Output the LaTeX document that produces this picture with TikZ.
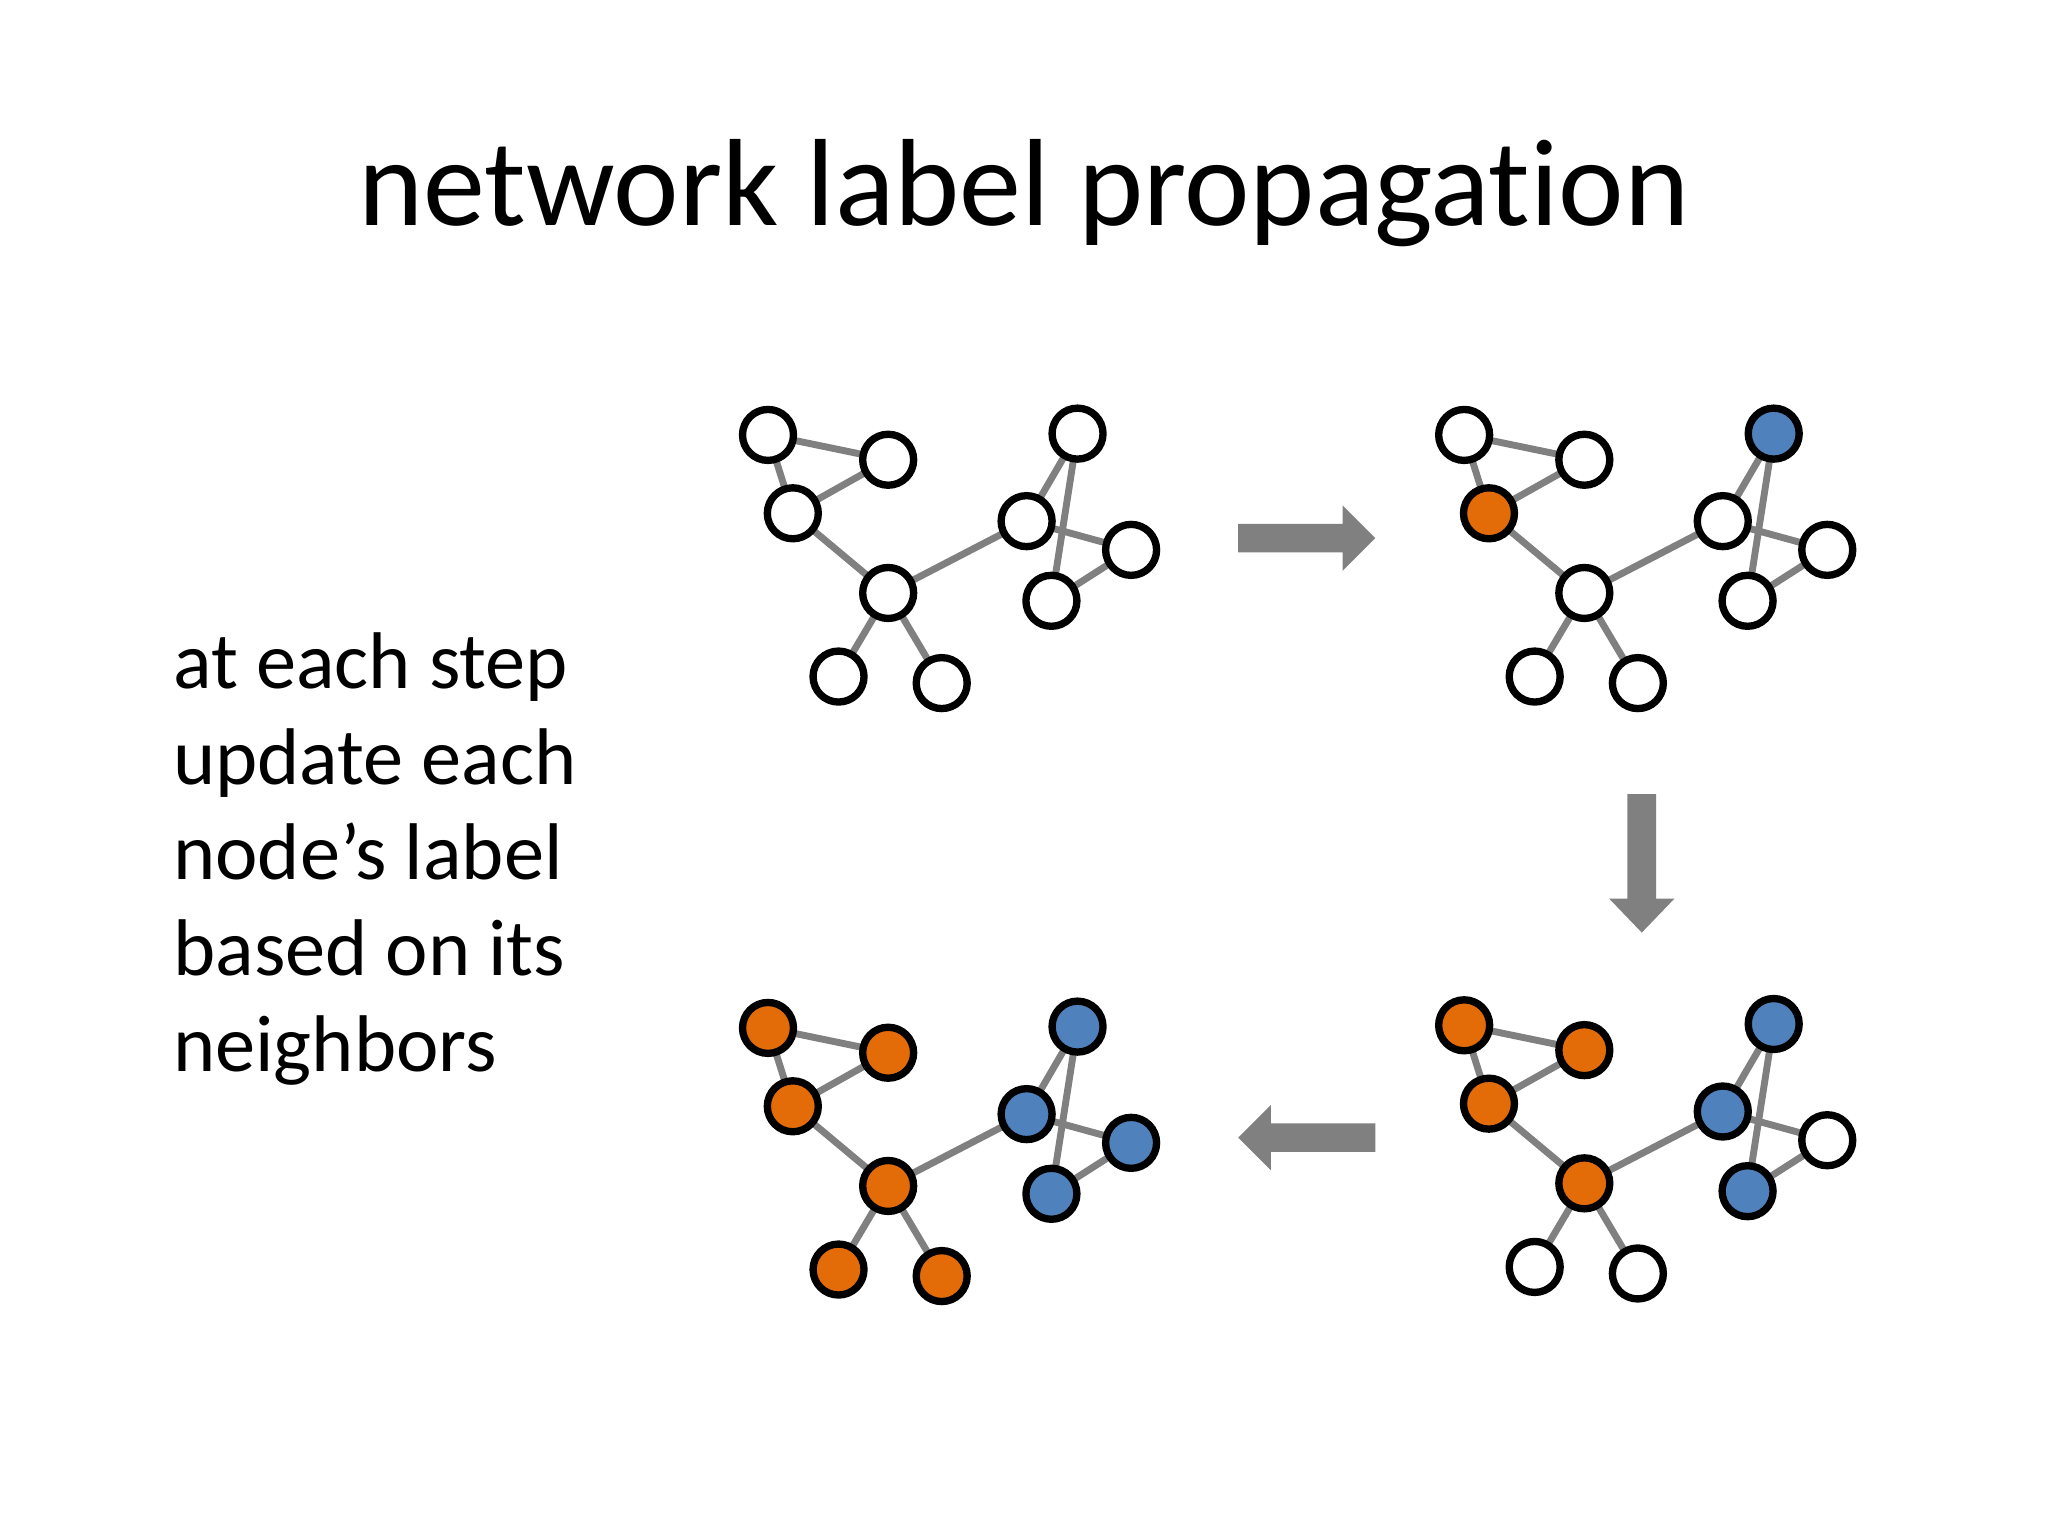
\documentclass[tikz,border=0pt]{standalone}
\usepackage{fontspec}
\setmainfont{Carlito}[Ligatures=NoCommon]
\begin{document}
\begin{tikzpicture}[x=0.01cm,y=-0.01cm,
  nd/.style={circle,draw=black,line width=1.6pt,minimum size=0.39cm,inner sep=0pt,fill=white},
  o/.style={fill=orangeC}, b/.style={fill=blueC},
  ed/.style={draw=arrowC,line width=1.5pt},
  blk/.style={fill=arrowC,draw=none}]
\definecolor{orangeC}{HTML}{E36C09}
\definecolor{blueC}{HTML}{4F81BD}
\definecolor{arrowC}{HTML}{808080}
\useasboundingbox (0,0) rectangle (1568,1176);
\fill[white] (0,0) rectangle (1568,1176);
\node (title) at (784,148) {\fontsize{27}{32}\selectfont network label propagation};
\node[anchor=north west,align=left,inner sep=0pt,font=\fontsize{17.5}{20.8}\selectfont] (txt) at (132,484) {at each step\\update each\\node’s label\\based on its\\neighbors};
% #3 A,B,D  #4 C  #5 E,F  #6 G,J  #7 H  #8 I
\newcommand{\graphfull}[8]{%
  \begin{scope}[shift={(#1,#2)}]
  \coordinate (A) at (588,333); \coordinate (B) at (680,352);
  \coordinate (C) at (607,393); \coordinate (D) at (680,454);
  \coordinate (E) at (642,518); \coordinate (F) at (721,523);
  \coordinate (G) at (786,399); \coordinate (H) at (825,332);
  \coordinate (I) at (866,421); \coordinate (J) at (805,460);
  \path[ed] (A)--(B) (A)--(C) (C)--(B) (C)--(D) (D)--(E) (D)--(F) (D)--(G) (G)--(H) (H)--(J) (G)--(I) (J)--(I);
  \node[nd,#3] at (A) {}; \node[nd,#3] at (B) {};
  \node[nd,#4] at (C) {}; \node[nd,#3] at (D) {};
  \node[nd,#5] at (E) {}; \node[nd,#5] at (F) {};
  \node[nd,#6] at (G) {}; \node[nd,#7] at (H) {};
  \node[nd,#6] at (J) {}; \node[nd,#8] at (I) {};
  \end{scope}}
\graphfull{0}{0}{}{}{}{}{}{}
\graphfull{533}{0}{}{o}{}{}{b}{}
\graphfull{533}{452}{o}{o}{}{b}{b}{}
\graphfull{0}{454}{o}{o}{o}{b}{b}{b}
% arrows
\fill[blk] (948,401)--(1028,401)--(1028,387)--(1053,412)--(1028,437)--(1028,423)--(948,423)--cycle;
\fill[blk] (1246,608)--(1268,608)--(1268,688)--(1282,688)--(1257,714)--(1232,688)--(1246,688)--cycle;
\fill[blk] (1053,860)--(973,860)--(973,846)--(948,871)--(973,896)--(973,882)--(1053,882)--cycle;
\end{tikzpicture}
\end{document}
